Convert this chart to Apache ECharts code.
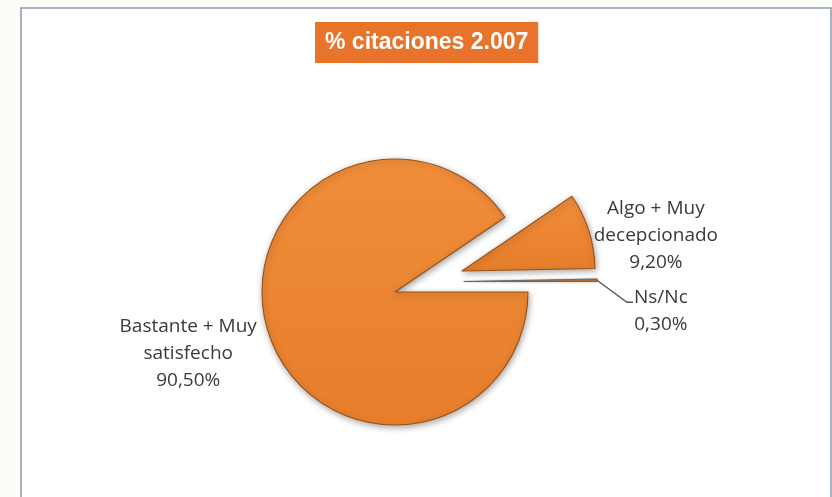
<!DOCTYPE html>
<html>
<head>
<meta charset="utf-8">
<script src="https://cdn.jsdelivr.net/npm/echarts@6/dist/echarts.min.js"></script>
<style>
  html, body { margin: 0; padding: 0; background: #FCFCF7; }
  #chart { width: 832px; height: 497px; }
</style>
</head>
<body>
<div id="chart"></div>
<script>
// ---- data ----
const categories = ['Bastante + Muy\nsatisfecho', 'Algo + Muy\ndecepcionado', 'Ns/Nc'];
const values = [90.5, 9.2, 0.3];
const titleText = '% citaciones 2.007';

// ---- layout (not data) ----
const CENTER = [395, 292];
const RADIUS = 133;
const sliceOffset = [[0, 0], [67, -21], [69, -10.5]];   // exploded slices
const labelShift = [[-6, 22], [0, 4.5], [32, 31]];

function fmt(v) { return v.toFixed(2).replace('.', ',') + '%'; }

const orange = {
  type: 'linear', x: 0, y: 0, x2: 0, y2: 1,
  colorStops: [{ offset: 0, color: '#F08D3A' }, { offset: 1, color: '#E67E2B' }]
};

function sliceStyle(j) {
  if (j === 2) {
    return { color: '#C9783A', borderColor: '#6E6A66', borderWidth: 1.1, shadowBlur: 2, shadowColor: 'rgba(0,0,0,0.3)' };
  }
  return {
    color: orange, borderColor: '#9A5016', borderWidth: 1.1,
    shadowBlur: 6, shadowColor: 'rgba(0,0,0,0.35)', shadowOffsetX: 1, shadowOffsetY: 2
  };
}

const series = values.map(function (_, i) {
  return {
    type: 'pie',
    center: [CENTER[0] + sliceOffset[i][0], CENTER[1] + sliceOffset[i][1]],
    radius: RADIUS,
    startAngle: 0,
    clockwise: true,
    avoidLabelOverlap: false,
    silent: true,
    z: 2 + i,
    data: values.map(function (v, j) {
      return {
        name: categories[j],
        value: v,
        itemStyle: j === i ? sliceStyle(j) : { color: 'rgba(0,0,0,0)', borderWidth: 0, shadowBlur: 0 },
        label: { show: j === i },
        labelLine: { show: j === i && i === 2 }
      };
    }),
    label: {
      position: 'outside',
      formatter: function (p) { return p.name + '\n' + fmt(p.value); },
      fontFamily: 'Open Sans',
      fontSize: 19,
      lineHeight: 27,
      color: '#3A3A3A'
    },
    labelLine: { length: 0, length2: 0, lineStyle: { color: '#555555', width: 1.3 } },
    labelLayout: function (p) {
      if (p.dataIndex !== i) return {};
      const r = p.labelRect;
      const s = labelShift[i];
      const nx = r.x + s[0];
      const ny = r.y + s[1];
      const out = { x: nx + r.width / 2, y: ny + r.height / 2, align: 'center', verticalAlign: 'middle' };
      if (i === 2 && p.labelLinePoints) {
        const a = p.labelLinePoints[0];
        out.labelLinePoints = [[a[0], a[1]], [nx - 7, ny + 18], [nx - 1, ny + 18]];
      }
      return out;
    }
  };
});

const chart = echarts.init(document.getElementById('chart'), null, { renderer: 'canvas' });
chart.setOption({
  animation: false,
  backgroundColor: 'transparent',
  title: {
    text: titleText,
    left: 315,
    top: 22,
    padding: [9, 10, 9, 10],
    backgroundColor: '#E8742C',
    textStyle: { color: '#FFFFFF', fontWeight: 'bold', fontSize: 23, fontFamily: 'Liberation Sans' }
  },
  graphic: [{
    type: 'rect', z: -10, silent: true,
    shape: { x: 21, y: 8, width: 810, height: 500 },
    style: { fill: '#FFFFFF', stroke: '#8C9AB0', lineWidth: 1.5 }
  }],
  series: series
});
</script>
</body>
</html>
